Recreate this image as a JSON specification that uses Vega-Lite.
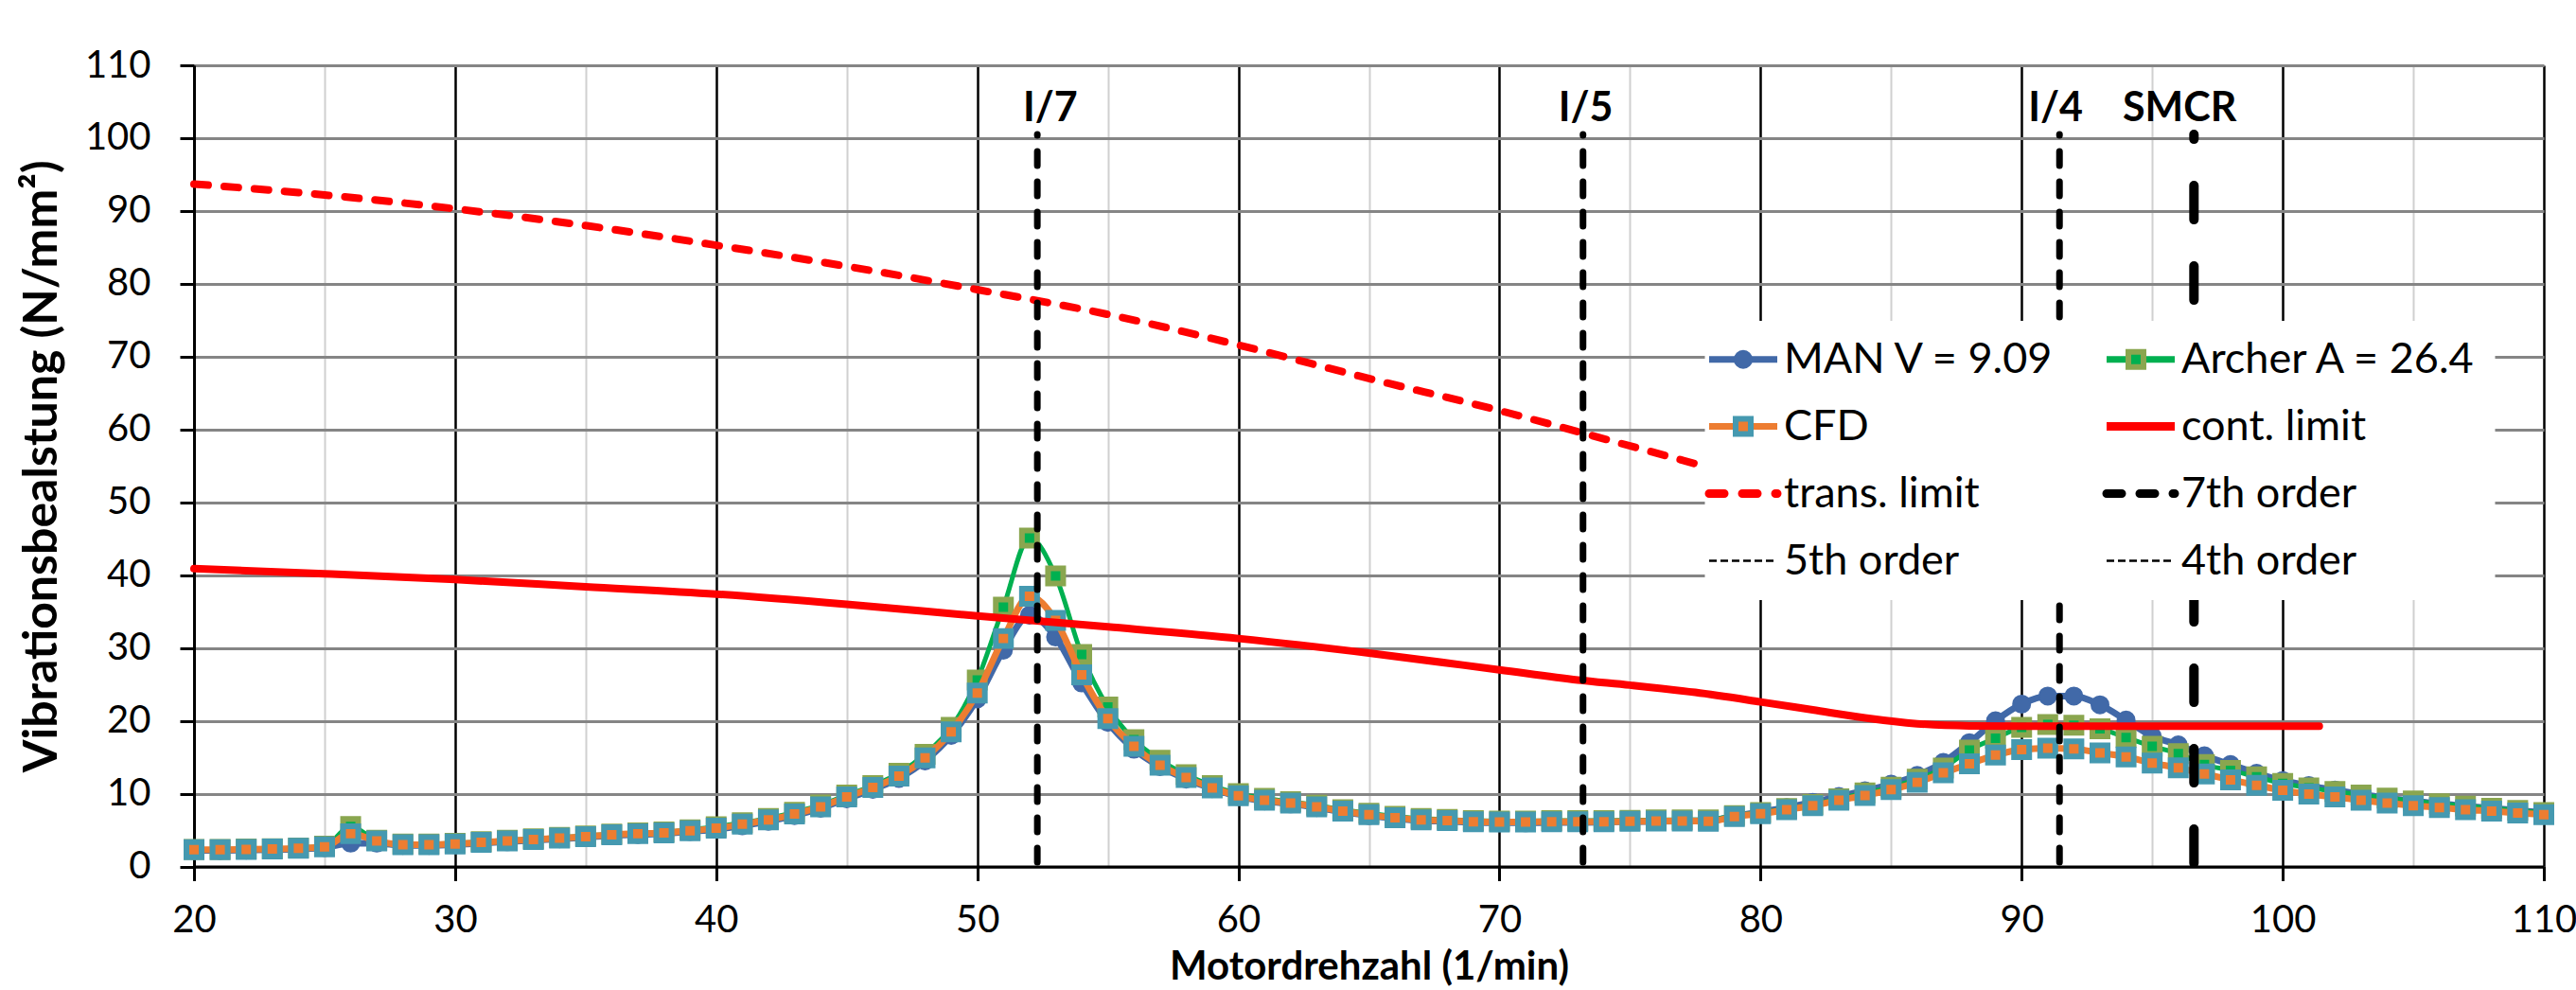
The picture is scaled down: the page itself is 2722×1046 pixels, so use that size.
{
  "$schema": "https://vega.github.io/schema/vega-lite/v6.json",
  "width": 2483,
  "height": 846.5,
  "autosize": {"type": "none"},
  "padding": {"left": 205, "top": 69, "right": 34, "bottom": 130.5},
  "background": "white",
  "datasets": {
    "curves": [
      {"x":20,"m":2.2,"a":2.35,"c":2.3},{"x":21,"m":2.2,"a":2.35,"c":2.3},{"x":22,"m":2.25,"a":2.4,"c":2.35},{"x":23,"m":2.3,"a":2.45,"c":2.4},{"x":24,"m":2.4,"a":2.55,"c":2.5},{"x":25,"m":2.6,"a":2.8,"c":2.7},{"x":26,"m":3.2,"a":5.5,"c":4.5},{"x":27,"m":3.2,"a":3.6,"c":3.5},{"x":28,"m":2.9,"a":3.1,"c":3.0},{"x":29,"m":2.9,"a":3.1,"c":3.0},
      {"x":30,"m":3.0,"a":3.2,"c":3.1},{"x":31,"m":3.2,"a":3.4,"c":3.3},{"x":32,"m":3.4,"a":3.6,"c":3.5},{"x":33,"m":3.6,"a":3.8,"c":3.7},{"x":34,"m":3.8,"a":4.0,"c":3.9},{"x":35,"m":4.0,"a":4.2,"c":4.1},{"x":36,"m":4.25,"a":4.45,"c":4.35},{"x":37,"m":4.4,"a":4.6,"c":4.5},{"x":38,"m":4.5,"a":4.75,"c":4.6},{"x":39,"m":4.8,"a":5.05,"c":4.9},
      {"x":40,"m":5.1,"a":5.45,"c":5.25},{"x":41,"m":5.6,"a":6.0,"c":5.8},{"x":42,"m":6.2,"a":6.6,"c":6.4},{"x":43,"m":7.0,"a":7.45,"c":7.2},{"x":44,"m":8.0,"a":8.45,"c":8.2},{"x":45,"m":9.3,"a":9.8,"c":9.55},{"x":46,"m":10.6,"a":11.1,"c":10.85},{"x":47,"m":12.1,"a":12.8,"c":12.4},{"x":48,"m":14.5,"a":15.4,"c":14.9},{"x":49,"m":18.0,"a":19.1,"c":18.5},
      {"x":50,"m":23.0,"a":25.6,"c":23.8},{"x":51,"m":29.7,"a":35.6,"c":31.3},{"x":52,"m":34.5,"a":45.1,"c":37.1},{"x":53,"m":31.5,"a":39.9,"c":33.8},{"x":54,"m":25.2,"a":29.1,"c":26.3},{"x":55,"m":19.8,"a":21.9,"c":20.3},{"x":56,"m":16.1,"a":17.4,"c":16.5},{"x":57,"m":13.7,"a":14.6,"c":13.9},{"x":58,"m":12.0,"a":12.6,"c":12.2},{"x":59,"m":10.7,"a":11.1,"c":10.8},
      {"x":60,"m":9.6,"a":10.0,"c":9.7},{"x":61,"m":9.0,"a":9.35,"c":9.1},{"x":62,"m":8.6,"a":8.9,"c":8.7},{"x":63,"m":8.1,"a":8.4,"c":8.2},{"x":64,"m":7.5,"a":7.8,"c":7.6},{"x":65,"m":7.0,"a":7.3,"c":7.1},{"x":66,"m":6.6,"a":6.9,"c":6.7},{"x":67,"m":6.3,"a":6.6,"c":6.4},{"x":68,"m":6.2,"a":6.45,"c":6.3},{"x":69,"m":6.05,"a":6.3,"c":6.15},
      {"x":70,"m":6.0,"a":6.25,"c":6.1},{"x":71,"m":6.0,"a":6.25,"c":6.1},{"x":72,"m":6.05,"a":6.3,"c":6.15},{"x":73,"m":6.05,"a":6.3,"c":6.15},{"x":74,"m":6.1,"a":6.3,"c":6.15},{"x":75,"m":6.15,"a":6.35,"c":6.2},{"x":76,"m":6.2,"a":6.4,"c":6.25},{"x":77,"m":6.25,"a":6.4,"c":6.25},{"x":78,"m":6.3,"a":6.4,"c":6.2},{"x":79,"m":6.9,"a":7.0,"c":6.85},
      {"x":80,"m":7.5,"a":7.4,"c":7.25},{"x":81,"m":8.1,"a":7.95,"c":7.8},{"x":82,"m":8.8,"a":8.5,"c":8.35},{"x":83,"m":9.6,"a":9.3,"c":9.1},{"x":84,"m":10.4,"a":10.1,"c":9.75},{"x":85,"m":11.3,"a":10.9,"c":10.55},{"x":86,"m":12.5,"a":12.0,"c":11.55},{"x":87,"m":14.3,"a":13.5,"c":12.85},{"x":88,"m":17.0,"a":16.0,"c":14.1},{"x":89,"m":20.0,"a":17.6,"c":15.3},
      {"x":90,"m":22.3,"a":19.1,"c":16.05},{"x":91,"m":23.4,"a":19.5,"c":16.25},{"x":92,"m":23.4,"a":19.4,"c":16.15},{"x":93,"m":22.2,"a":18.9,"c":15.6},{"x":94,"m":20.1,"a":17.7,"c":15.05},{"x":95,"m":17.9,"a":16.5,"c":14.2},{"x":96,"m":16.7,"a":15.5,"c":13.55},{"x":97,"m":15.2,"a":14.0,"c":12.7},{"x":98,"m":14.0,"a":13.2,"c":11.9},{"x":99,"m":12.8,"a":12.3,"c":11.15},
      {"x":100,"m":11.8,"a":11.4,"c":10.45},{"x":101,"m":11.1,"a":10.8,"c":9.95},{"x":102,"m":10.5,"a":10.3,"c":9.55},{"x":103,"m":9.9,"a":9.8,"c":9.1},{"x":104,"m":9.4,"a":9.4,"c":8.7},{"x":105,"m":9.0,"a":9.0,"c":8.35},{"x":106,"m":8.6,"a":8.6,"c":8.1},{"x":107,"m":8.3,"a":8.3,"c":7.8},{"x":108,"m":8.0,"a":8.0,"c":7.6},{"x":109,"m":7.7,"a":7.7,"c":7.35},{"x":110,"m":7.4,"a":7.4,"c":7.1}
    ],
    "cont": [
      {"x":20,"y":40.9},{"x":25,"y":40.2},{"x":30,"y":39.4},{"x":35,"y":38.4},{"x":40,"y":37.4},{"x":45,"y":36.0},{"x":50,"y":34.4},{"x":55,"y":32.9},{"x":60,"y":31.3},{"x":65,"y":29.3},{"x":70,"y":27.0},{"x":73,"y":25.6},{"x":75,"y":24.9},{"x":77.5,"y":23.9},{"x":80,"y":22.6},{"x":82,"y":21.5},{"x":84,"y":20.4},{"x":86,"y":19.6},{"x":88,"y":19.3},{"x":90,"y":19.25},{"x":95,"y":19.25},{"x":101.4,"y":19.25}
    ],
    "trans": [
      {"x":20,"y":93.7},{"x":25,"y":92.2},{"x":30,"y":90.3},{"x":35,"y":88.0},{"x":40,"y":85.3},{"x":45,"y":82.4},{"x":50,"y":79.2},{"x":55,"y":75.8},{"x":60,"y":71.6},{"x":65,"y":67.0},{"x":70,"y":62.6},{"x":73.2,"y":59.5},{"x":77.6,"y":55.2}
    ],
    "orders": [
      {"o":"7th order","x":52.3},{"o":"5th order","x":73.2},{"o":"4th order","x":91.45}
    ],
    "smcr": [{"x":96.6}],
    "labels": [
      {"t":"I/7","x":52.8},{"t":"I/5","x":73.3},{"t":"I/4","x":91.3},{"t":"SMCR","x":96.05}
    ]
  },
  "encoding": {
    "x": {
      "field": "x", "type": "quantitative",
      "scale": {"domain": [20, 110], "nice": false, "zero": false},
      "axis": {
        "title": "Motordrehzahl (1/min)",
        "values": [20,25,30,35,40,45,50,55,60,65,70,75,80,85,90,95,100,105,110],
        "labelExpr": "datum.value % 10 === 0 ? datum.label : ''",
        "grid": true,
        "gridColor": {"condition": {"test": "datum.value % 10 === 0", "value": "#000000"}, "value": "#d0d0d0"},
        "gridWidth": {"condition": {"test": "datum.value % 10 === 0", "value": 2.5}, "value": 2},
        "tickOpacity": {"condition": {"test": "datum.value % 10 === 0", "value": 1}, "value": 0},
        "tickSize": 15, "tickWidth": 3, "tickColor": "black",
        "domainColor": "black", "domainWidth": 3,
        "labelFont": "Lato", "labelFontSize": 40, "labelColor": "black", "labelPadding": 22,
        "labelFlush": false, "labelOverlap": false,
        "titleFont": "Lato", "titleFontSize": 42, "titleFontWeight": "bold", "titleColor": "black", "titlePadding": 9
      }
    }
  },
  "layer": [
    {
      "data": {"name": "curves"},
      "mark": {"type": "line", "strokeWidth": 7, "interpolate": "monotone", "strokeJoin": "round"},
      "encoding": {
        "y": {
          "field": "m", "type": "quantitative",
          "scale": {"domain": [0, 110], "nice": false, "zero": false},
          "axis": {
            "title": "Vibrationsbealstung (N/mm²)",
            "values": [0,5,10,15,20,25,30,35,40,45,50,55,60,65,70,75,80,85,90,95,100,105,110],
            "labelExpr": "datum.value % 10 === 0 ? datum.label : ''",
            "grid": true,
            "gridColor": {"condition": {"test": "datum.value % 10 === 0", "value": "#858585"}, "value": "#d0d0d0"},
            "gridWidth": {"condition": {"test": "datum.value % 10 === 0", "value": 3}, "value": 2},
            "tickOpacity": {"condition": {"test": "datum.value % 10 === 0", "value": 1}, "value": 0},
            "tickSize": 15, "tickWidth": 3, "tickColor": "black",
            "domainColor": "black", "domainWidth": 3,
            "labelFont": "Lato", "labelFontSize": 40, "labelColor": "black", "labelPadding": 31,
            "labelFlush": false, "labelOverlap": false,
            "titleFont": "Lato", "titleFontSize": 50, "titleFontWeight": "bold", "titleColor": "black", "titlePadding": 20
          }
        },
        "color": {
          "datum": "MAN V = 9.09",
          "scale": {"domain": ["MAN V = 9.09","Archer A = 26.4","CFD","cont. limit","trans. limit","7th order","5th order","4th order"], "range": ["#4169A8","#00B050","#ED7D31","#FF0000","#FF0000","#000000","#000000","#000000"]},
          "legend": {
            "title": null, "orient": "none", "legendX": 1596.5, "legendY": 270, "columns": 2, "direction": "horizontal",
            "fillColor": "white", "padding": 18, "rowPadding": 25, "columnPadding": 35,
            "symbolType": "M-2,0L2,0", "symbolSize": 1296, "symbolStrokeWidth": 7,
            "labelFont": "Lato", "labelFontSize": 45, "labelColor": "black", "labelLimit": 1000, "labelOffset": 20.5,
            "encoding": {
              "symbols": {
                "strokeWidth": {"value": {"expr": "(datum.value == '5th order' || datum.value == '4th order') ? 2.5 : ((datum.value == 'cont. limit' || datum.value == 'trans. limit' || datum.value == '7th order') ? 9 : 7)"}},
                "strokeDash": {"value": {"expr": "(datum.value == 'trans. limit' || datum.value == '7th order') ? [16,19] : ((datum.value == '5th order' || datum.value == '4th order') ? [8,4] : [1,0])"}},
                "strokeCap": {"value": {"expr": "(datum.value == 'trans. limit' || datum.value == '7th order') ? 'round' : 'butt'"}}
              }
            }
          }
        }
      }
    },
    {
      "data": {"name": "curves"},
      "mark": {"type": "point", "filled": true, "size": 1296, "opacity": 1, "fill": "#4169A8", "stroke": "#4169A8", "strokeWidth": 2},
      "encoding": {
        "y": {"field": "m", "type": "quantitative", "scale": {"domain": [0, 110], "nice": false, "zero": false}},
        "shape": {
          "datum": "MAN V = 9.09",
          "scale": {"domain": ["MAN V = 9.09","Archer A = 26.4","CFD"], "range": ["M-2,0M2,0M-0.5,0A0.5,0.5 0 1,0 0.5,0A0.5,0.5 0 1,0 -0.5,0Z","M-2,0M2,0M-0.444,-0.444L0.444,-0.444L0.444,0.444L-0.444,0.444Z","M-2,0M2,0M-0.444,-0.444L0.444,-0.444L0.444,0.444L-0.444,0.444Z"]},
          "legend": {
            "title": null, "orient": "none", "legendX": 1596.5, "legendY": 270, "columns": 2, "direction": "horizontal",
            "padding": 18, "rowPadding": 25, "columnPadding": 318,
            "symbolSize": 1296, "symbolOpacity": 1,
            "labelFont": "Lato", "labelFontSize": 45, "labelColor": "black", "labelLimit": 1000, "labelOffset": 20.5,
            "labelExpr": "''",
            "encoding": {
              "symbols": {
                "fill": {"value": {"expr": "datum.value == 'MAN V = 9.09' ? '#4169A8' : (datum.value == 'CFD' ? '#ED7D31' : '#00B050')"}},
                "stroke": {"value": {"expr": "datum.value == 'MAN V = 9.09' ? '#4169A8' : (datum.value == 'CFD' ? '#4599B0' : '#8AA64F')"}},
                "strokeWidth": {"value": {"expr": "datum.value == 'MAN V = 9.09' ? 2 : 6"}}
              }
            }
          }
        }
      }
    },
    {
      "data": {"name": "curves"},
      "mark": {"type": "line", "strokeWidth": 5, "interpolate": "monotone", "strokeJoin": "round"},
      "encoding": {
        "y": {"field": "a", "type": "quantitative", "scale": {"domain": [0, 110], "nice": false, "zero": false}},
        "color": {"datum": "Archer A = 26.4"}
      }
    },
    {
      "data": {"name": "curves"},
      "mark": {"type": "point", "filled": true, "size": 1296, "opacity": 1, "fill": "#00B050", "stroke": "#8AA64F", "strokeWidth": 6},
      "encoding": {
        "y": {"field": "a", "type": "quantitative", "scale": {"domain": [0, 110], "nice": false, "zero": false}},
        "shape": {"datum": "Archer A = 26.4"}
      }
    },
    {
      "data": {"name": "curves"},
      "mark": {"type": "line", "strokeWidth": 7, "interpolate": "monotone", "strokeJoin": "round"},
      "encoding": {
        "y": {"field": "c", "type": "quantitative", "scale": {"domain": [0, 110], "nice": false, "zero": false}},
        "color": {"datum": "CFD"}
      }
    },
    {
      "data": {"name": "curves"},
      "mark": {"type": "point", "filled": true, "size": 1296, "opacity": 1, "fill": "#ED7D31", "stroke": "#4599B0", "strokeWidth": 6},
      "encoding": {
        "y": {"field": "c", "type": "quantitative", "scale": {"domain": [0, 110], "nice": false, "zero": false}},
        "shape": {"datum": "CFD"}
      }
    },
    {
      "data": {"name": "cont"},
      "mark": {"type": "line", "strokeWidth": 8, "interpolate": "monotone", "strokeCap": "round"},
      "encoding": {
        "y": {"field": "y", "type": "quantitative", "scale": {"domain": [0, 110], "nice": false, "zero": false}},
        "color": {"datum": "cont. limit"}
      }
    },
    {
      "data": {"name": "trans"},
      "mark": {"type": "line", "strokeWidth": 8, "interpolate": "monotone", "strokeCap": "round", "strokeDash": [15, 17]},
      "encoding": {
        "y": {"field": "y", "type": "quantitative", "scale": {"domain": [0, 110], "nice": false, "zero": false}},
        "color": {"datum": "trans. limit"}
      }
    },
    {
      "data": {"name": "orders"},
      "mark": {"type": "rule", "strokeWidth": 7, "strokeCap": "round", "strokeDash": [15, 17], "strokeDashOffset": 14},
      "encoding": {
        "y": {"datum": 100.5, "type": "quantitative", "scale": {"domain": [0, 110], "nice": false, "zero": false}},
        "y2": {"datum": 0},
        "color": {"field": "o", "type": "nominal", "title": null}
      }
    },
    {
      "data": {"name": "smcr"},
      "mark": {"type": "rule", "strokeWidth": 10, "strokeCap": "round", "strokeDash": [36, 49], "strokeDashOffset": 31, "color": "black"},
      "encoding": {
        "y": {"datum": 100.5, "type": "quantitative", "scale": {"domain": [0, 110], "nice": false, "zero": false}},
        "y2": {"datum": 0}
      }
    },
    {
      "data": {"name": "labels"},
      "mark": {"type": "text", "font": "Lato", "fontSize": 43, "fontWeight": "bold", "color": "black", "align": "center", "baseline": "middle"},
      "encoding": {
        "y": {"datum": 104, "type": "quantitative", "scale": {"domain": [0, 110], "nice": false, "zero": false}},
        "text": {"field": "t"}
      }
    }
  ],
  "config": {
    "view": {"stroke": null},
    "font": "Lato"
  }
}
